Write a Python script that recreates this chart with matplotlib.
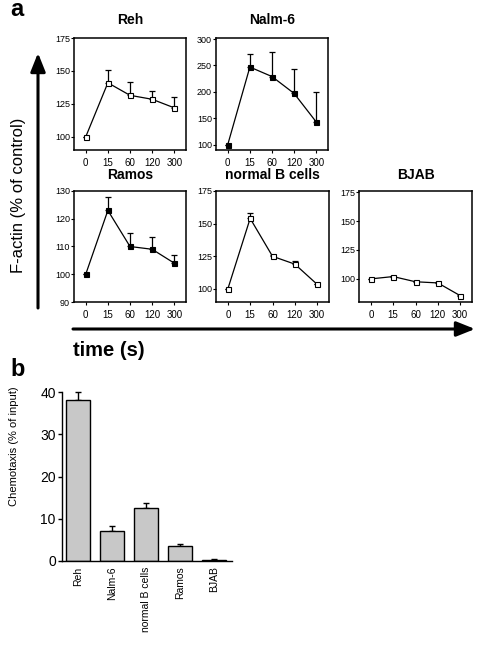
import matplotlib
matplotlib.use("Agg")
import matplotlib.pyplot as plt
import numpy as np

plt.rcParams["font.family"] = ["Liberation Sans", "DejaVu Sans"]

W, H = 486, 647

# panel a: F-actin time course
time_labels = ["0", "15", "60", "120", "300"]

reh_mean = [100, 141, 131.5, 128.5, 122]
reh_err = [0, 10, 10, 6, 8]

nalm_mean = [100, 247, 229, 197, 143]
nalm_err = [0, 25, 47, 47, 57]

ramos_mean = [100, 123, 110, 109, 104]
ramos_err = [0, 5, 5, 4.5, 3]

normb_mean = [100, 154, 125, 119, 103.5]
normb_err = [0, 4.5, 1, 2.5, 0.5]

bjab_mean = [100, 102, 97.5, 96.5, 85.5]
bjab_err = [0, 0.5, 0.5, 0.5, 0.5]

# panel b: chemotaxis
cell_lines = ["Reh", "Nalm-6", "normal B cells", "Ramos", "BJAB"]
chemo_mean = [38, 7.2, 12.5, 3.5, 0.3]
chemo_err = [2.1, 1.0, 1.3, 0.5, 0.1]


fig = plt.figure(figsize=(W / 100, H / 100), dpi=100)


def px_axes(x0, y0, x1, y1, **kw):
    return fig.add_axes([x0 / W, 1 - y1 / H, (x1 - x0) / W, (y1 - y0) / H], **kw)


def time_panel(ax, mean, err, filled, ylim, yticks):
    x = np.arange(len(mean))
    ax.errorbar(
        x, mean, yerr=[np.zeros(len(err)), err],
        fmt="none", ecolor="black", elinewidth=0.9, capsize=2.5,
        capthick=0.9, zorder=2,
    )
    ax.plot(
        x, mean, color="black", lw=0.9, marker="s", markersize=3.6,
        markerfacecolor="black" if filled else "white",
        markeredgecolor="black", markeredgewidth=0.8, zorder=3,
    )
    ax.set_xlim(-0.53, 4.53)
    ax.set_ylim(*ylim)
    ax.set_yticks(yticks)
    ax.set_xticks(x)
    ax.set_xticklabels(time_labels)
    ax.tick_params(axis="y", direction="out", length=2, width=0.8,
                   labelsize=6.5, pad=1)
    ax.tick_params(axis="x", direction="out", length=2.5, width=0.8,
                   labelsize=7, pad=3)
    for s in ax.spines.values():
        s.set_linewidth(1.1)


ax_reh = px_axes(74, 38, 186, 150)
time_panel(ax_reh, reh_mean, reh_err, False, (90, 175), [100, 125, 150, 175])

ax_nalm = px_axes(216, 38, 328, 150)
time_panel(ax_nalm, nalm_mean, nalm_err, True, (90, 302),
           [100, 150, 200, 250, 300])

ax_ramos = px_axes(74, 191, 186, 302)
time_panel(ax_ramos, ramos_mean, ramos_err, True, (90, 130),
           [90, 100, 110, 120, 130])

ax_normb = px_axes(216, 191, 329, 302)
time_panel(ax_normb, normb_mean, normb_err, False, (90, 175),
           [100, 125, 150, 175])

ax_bjab = px_axes(359, 191, 472, 302)
time_panel(ax_bjab, bjab_mean, bjab_err, False, (80, 176),
           [100, 125, 150, 175])

# panel b
ax_bar = px_axes(62, 392, 232, 561)
xb = np.arange(len(cell_lines))
ax_bar.bar(xb, chemo_mean, width=0.68, color="#c8c8c8", edgecolor="black",
           linewidth=1.0, zorder=2)
ax_bar.errorbar(xb, chemo_mean, yerr=[np.zeros(len(chemo_err)), chemo_err],
                fmt="none", ecolor="black", elinewidth=1.0, capsize=2.5,
                capthick=1.0, zorder=1, clip_on=False)
ax_bar.set_xlim(-0.47, 4.53)
ax_bar.set_ylim(0, 40)
ax_bar.set_yticks([0, 10, 20, 30, 40])
ax_bar.set_xticks(xb)
ax_bar.set_xticklabels(cell_lines, rotation=90, fontsize=7.5)
ax_bar.tick_params(axis="x", length=0, pad=4)
ax_bar.tick_params(axis="y", direction="out", length=3, width=1.0,
                   labelsize=10, pad=1.5)
ax_bar.spines["top"].set_visible(False)
ax_bar.spines["right"].set_visible(False)
for s in ("left", "bottom"):
    ax_bar.spines[s].set_linewidth(1.0)
ax_bar.set_ylabel("Chemotaxis (% of input)", fontsize=8)
ax_bar.yaxis.set_label_coords(-0.25, 0.68)

# overlay for arrows, titles and panel letters
ov = fig.add_axes([0, 0, 1, 1], zorder=5)
ov.set_xlim(0, W)
ov.set_ylim(H, 0)
ov.axis("off")
ov.patch.set_alpha(0)

arrow = dict(arrowstyle="-|>,head_length=0.7,head_width=0.28",
             color="black", lw=2.2, mutation_scale=16, shrinkA=0, shrinkB=0)
ov.annotate("", xy=(38, 53), xytext=(38, 308), arrowprops=arrow)
ov.annotate("", xy=(475, 329), xytext=(73, 329), arrowprops=arrow)

ov.text(10, 10, "a", fontsize=17, fontweight="bold", ha="left", va="center")
ov.text(10, 369, "b", fontsize=17, fontweight="bold", ha="left", va="center")
ov.text(18, 195, "F-actin (% of control)", fontsize=12, rotation=90,
        ha="center", va="center")
ov.text(73, 350, "time (s)", fontsize=14.5, fontweight="bold",
        ha="left", va="center")

titles = [("Reh", 130, 20), ("Nalm-6", 272, 20), ("Ramos", 130, 175),
          ("normal B cells", 272, 175), ("BJAB", 416, 175)]
for t, x, y in titles:
    ov.text(x, y, t, fontsize=10, fontweight="bold", ha="center", va="center")

fig.savefig("out.png", dpi=100)
